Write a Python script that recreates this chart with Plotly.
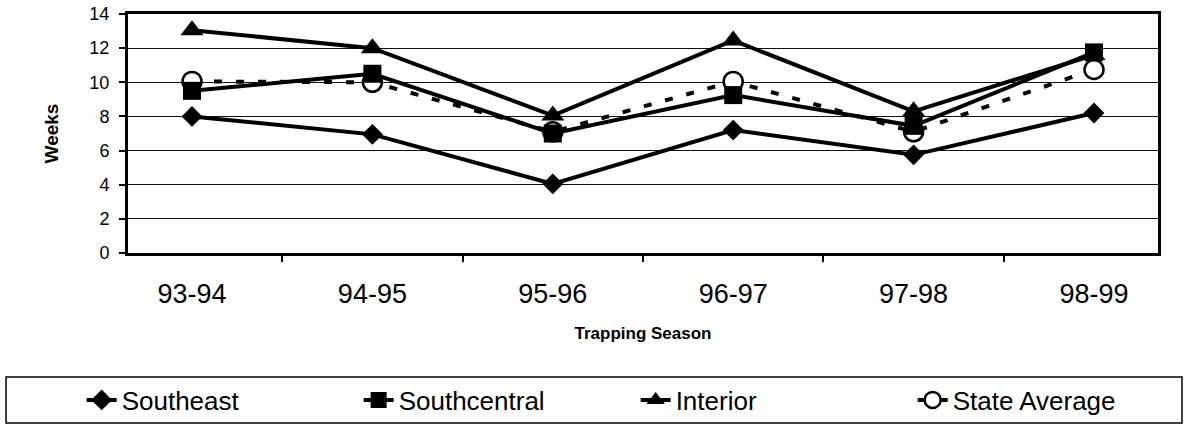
import plotly.graph_objects as go

seasons = ["93-94", "94-95", "95-96", "96-97", "97-98", "98-99"]
southeast = [8.0, 6.95, 4.05, 7.2, 5.75, 8.2]
southcentral = [9.5, 10.5, 7.0, 9.25, 7.45, 11.75]
interior = [13.05, 12.0, 8.05, 12.45, 8.3, 11.6]
state_avg = [10.05, 10.0, 7.1, 10.05, 7.1, 10.75]

FONT = "Liberation Sans, Arial, sans-serif"

fig = go.Figure()
fig.add_trace(go.Scatter(
    x=seasons, y=state_avg, name="State Average", mode="lines+markers",
    line=dict(color="black", width=4, dash="8px,14px"),
    marker=dict(symbol="circle", size=19, color="white", line=dict(color="black", width=2.5)),
    legendrank=4))
fig.add_trace(go.Scatter(
    x=seasons, y=southeast, name="Southeast", mode="lines+markers",
    line=dict(color="black", width=4),
    marker=dict(symbol="diamond", size=16, color="black"),
    legendrank=1))
fig.add_trace(go.Scatter(
    x=seasons, y=southcentral, name="Southcentral", mode="lines+markers",
    line=dict(color="black", width=4),
    marker=dict(symbol="square", size=18, color="black"),
    legendrank=2))
fig.add_trace(go.Scatter(
    x=seasons, y=interior, name="Interior", mode="lines+markers",
    line=dict(color="black", width=4),
    marker=dict(symbol="triangle-up", size=20, color="black"),
    legendrank=3))

fig.update_layout(
    width=1186, height=428,
    margin=dict(l=128, r=28, t=14, b=175, autoexpand=False),
    paper_bgcolor="white", plot_bgcolor="white",
    font=dict(family=FONT, color="black"),
    showlegend=True,
    legend=dict(orientation="h", x=-0.045, xanchor="left", y=-0.615, yanchor="middle",
                font=dict(size=26, family=FONT, color="black"),
                entrywidth=232, bgcolor="rgba(0,0,0,0)", borderwidth=0),
    xaxis=dict(
        type="category", showgrid=False, tickson="boundaries", automargin=False,
        ticks="outside", ticklen=6, tickcolor="black", tickwidth=1.5,
        showline=True, linecolor="black", linewidth=3, mirror=True,
        tickfont=dict(size=27, family=FONT), ticklabelstandoff=15,
        title=dict(text="<b>Trapping Season</b>", font=dict(size=17, family=FONT), standoff=19),
    ),
    yaxis=dict(
        range=[0, 14], dtick=2, showgrid=True, gridcolor="#111", gridwidth=1, automargin=False,
        ticks="outside", ticklen=6, tickcolor="black", tickwidth=1.5,
        showline=True, linecolor="black", linewidth=3, mirror=True, zeroline=False,
        tickfont=dict(size=18, family=FONT), ticklabelstandoff=6,
        title=dict(text="<b>Weeks</b>", font=dict(size=19, family=FONT), standoff=26),
    ),
    shapes=[dict(type="rect", xref="paper", yref="paper",
                 x0=-0.1184, x1=1.0233, y0=-0.711, y1=-0.519,
                 line=dict(color="black", width=1.5), fillcolor="rgba(0,0,0,0)")],
)

fig.write_html("out.html", config={"displayModeBar": False},
               post_script="document.body.style.margin='0';document.body.style.overflow='hidden';")
